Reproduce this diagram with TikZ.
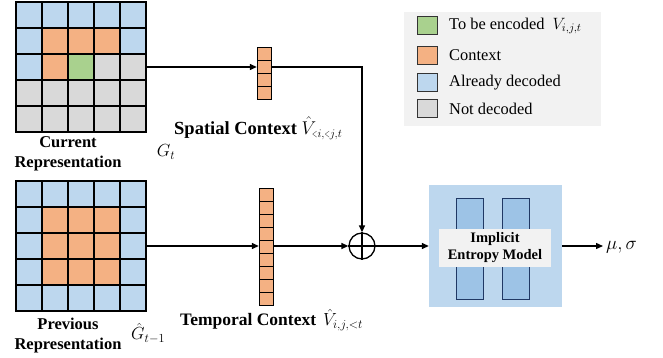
\RequirePackage{fix-cm}
\documentclass[tikz,border=0pt]{standalone}
\usepackage{fontspec}
\usepackage{graphicx}
\setmainfont{Liberation Serif}
\usetikzlibrary{arrows.meta,calc}
\definecolor{cB}{HTML}{BDD7EE}
\definecolor{cO}{HTML}{F4B183}
\definecolor{cG}{HTML}{A9D18E}
\definecolor{cN}{HTML}{D9D9D9}
\definecolor{legbg}{HTML}{F2F2F2}
\definecolor{embg}{HTML}{BDD7EE}
\definecolor{emin}{HTML}{9DC3E6}
\definecolor{emdk}{HTML}{203864}
\newcommand\sublt{\mathrel{\scalebox{0.6}[1]{$\scriptstyle<$}}}
\begin{document}
\begin{tikzpicture}[x=1pt,y=-1pt,
  cell/.style={draw=black,line width=1.3pt},
  vcell/.style={draw=black,line width=1pt,fill=cO},
  arr/.style={line width=1.3pt,-{Triangle[length=7pt,width=6pt]}},
  lbl/.style={font=\fontsize{16.5}{20}\selectfont\bfseries,align=center,inner sep=0pt},
  mth/.style={font=\fontsize{17.5}{19}\selectfont,inner sep=0pt},
  legsq/.style={draw=black!80,line width=1pt,minimum width=20pt,minimum height=18pt,inner sep=0pt},
  legt/.style={font=\fontsize{16.4}{19}\selectfont,anchor=west,inner sep=0pt},
  box/.style={inner sep=0pt}]
\useasboundingbox (0,0) rectangle (663,358);
% current grid
\foreach \row [count=\r from 0] in {{B,B,B,B,B},{B,O,O,O,B},{B,O,G,N,N},{N,N,N,N,N},{N,N,N,N,N}}
  \foreach \c [count=\k from 0] in \row
    \draw[cell,fill=c\c] (16+26*\k,2+26*\r) rectangle ++(26,26);
\node[box,minimum width=130pt,minimum height=130pt] (cur) at (81,67) {};
% previous grid
\foreach \row [count=\r from 0] in {{B,B,B,B,B},{B,O,O,O,B},{B,O,O,O,B},{B,O,O,O,B},{B,B,B,B,B}}
  \foreach \c [count=\k from 0] in \row
    \draw[cell,fill=c\c] (16+26*\k,181+26*\r) rectangle ++(26,26);
\node[box,minimum width=130pt,minimum height=130pt] (prev) at (81,246) {};
% labels under grids
\node[lbl] (curl) at (68,154) {Current\\Representation};
\node[mth] (gt) at (166,152) {$G_t$};
\node[lbl] (prevl) at (68,335.5) {Previous\\Representation};
\node[mth,anchor=west] (gp) at (131,333) {$\hat{G}_{t-1}$};
% spatial vector
\foreach \k in {0,...,3} \draw[vcell] (257,48+13*\k) rectangle ++(14,13);
\node[box,minimum width=14pt,minimum height=52pt] (sv) at (264,74) {};
% temporal vector
\foreach \k in {0,...,8} \draw[vcell] (259,188+13*\k) rectangle ++(14,13);
\node[box,minimum width=14pt,minimum height=117pt] (tv) at (266,246.5) {};
% context labels
\node[anchor=west,inner sep=0pt,font=\fontsize{18.5}{20}\selectfont\bfseries] (spl) at (174,128) {Spatial Context $\hat{V}_{\scalebox{0.9}{$\scriptstyle\sublt i,\sublt j,t$}}$};
\node[anchor=west,inner sep=0pt,font=\fontsize{17.5}{20}\selectfont\bfseries] (tpl) at (180,320) {Temporal Context\hspace{7pt}$\hat{V}_{i,j,<t}$};
% plus
\node[circle,draw,line width=1.3pt,minimum size=26pt,inner sep=0pt] (plus) at (362,246) {};
\draw[line width=1.1pt] (plus.north) -- (plus.south) (plus.west) -- (plus.east);
% entropy model
\node[box,fill=embg,minimum width=133pt,minimum height=122pt] (em) at (495.5,246) {};
\node[box,fill=emin,draw=emdk,line width=1pt,minimum width=27pt,minimum height=101pt] (r1) at (469.5,248.5) {};
\node[box,fill=emin,draw=emdk,line width=1pt,minimum width=27pt,minimum height=101pt] (r2) at (515.5,248.5) {};
\node[box,fill=legbg,minimum width=112pt,minimum height=38pt,font=\fontsize{14.5}{17}\selectfont\bfseries,align=center] (iem) at (495,248) {Implicit\\Entropy Model};
% connectors
\draw[arr] (cur.east) -- (cur.east -| sv.west);
\draw[arr] (cur.east -| sv.east) -| (plus.north);
\draw[arr] (prev.east) -- (prev.east -| tv.west);
\draw[arr] (prev.east -| tv.east) -- (plus.west);
\draw[arr] (plus.east) -- (em.west);
\coordinate (out) at (603,246);
\draw[arr] (em.east) -- (out);
\node[anchor=west,font=\fontsize{19}{21}\selectfont,inner sep=0pt] (ms) at (606,247) {$\mu,\sigma$};
% legend
\node[box,fill=legbg,minimum width=197pt,minimum height=114pt] (leg) at (502.5,69) {};
\node[legsq,fill=cG] (l1) at (427,26) {};
\node[legsq,fill=cO] (l2) at (427,55.5) {};
\node[legsq,fill=cB] (l3) at (427,82.5) {};
\node[legsq,fill=cN] (l4) at (427,109) {};
\node[legt] (t1) at (449,26) {To be encoded\hspace{8pt}$V_{i,j,t}$};
\node[legt] (t2) at (449,55.5) {Context};
\node[legt] (t3) at (449,82.5) {Already decoded};
\node[legt] (t4) at (449,109) {Not decoded};
\end{tikzpicture}
\end{document}
